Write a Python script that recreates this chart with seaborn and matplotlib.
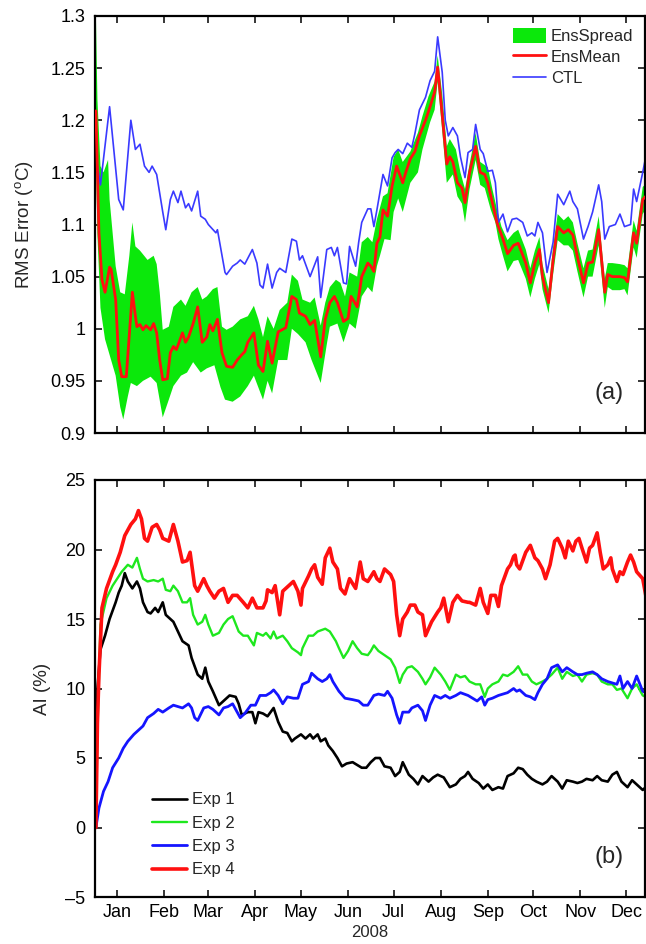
import numpy as np
import pandas as pd
import matplotlib
matplotlib.use("Agg")
import matplotlib.pyplot as plt
from matplotlib.patches import Patch
from matplotlib.lines import Line2D
import seaborn as sns

# ---------------- data (day of 2008, Jan 1 = 0) ----------------
month_labels = ["Jan", "Feb", "Mar", "Apr", "May", "Jun",
                "Jul", "Aug", "Sep", "Oct", "Nov", "Dec"]

ctl_days = [0, 3, 9, 15, 18, 23, 26, 29, 32, 35, 37, 40, 44, 46, 49, 51, 54, 56, 59, 61, 63,
            67, 69, 72, 74, 79, 80, 85, 86, 90, 93, 95, 98, 103, 106, 108, 110, 113, 116, 119,
            121, 125, 129, 132, 134, 136, 141, 146, 148, 152, 155, 157, 159, 163, 165, 167, 171,
            173, 175, 179, 181, 183, 185, 189, 192, 195, 197, 199, 202, 205, 208, 210, 213, 217,
            220, 223, 225, 228, 230, 232, 235, 238, 240, 243, 245, 248, 250, 253, 255, 258, 261,
            263, 265, 268, 271, 274, 277, 281, 284, 287, 289, 291, 294, 297, 301, 304, 308, 312,
            314, 317, 321, 324, 327, 331, 333, 335, 338, 342, 345, 348, 352, 354, 356, 360, 362]
ctl_vals = [1.165, 1.138, 1.213, 1.124, 1.114, 1.200, 1.172, 1.177, 1.156, 1.150, 1.156, 1.148,
            1.112, 1.095, 1.124, 1.132, 1.121, 1.132, 1.116, 1.120, 1.113, 1.132, 1.108, 1.105,
            1.100, 1.092, 1.095, 1.054, 1.052, 1.060, 1.063, 1.066, 1.062, 1.076, 1.063, 1.042,
            1.039, 1.062, 1.039, 1.054, 1.058, 1.054, 1.086, 1.084, 1.066, 1.070, 1.050, 1.069,
            1.030, 1.076, 1.078, 1.070, 1.078, 1.044, 1.043, 1.079, 1.060, 1.083, 1.102, 1.115,
            1.115, 1.098, 1.114, 1.148, 1.137, 1.164, 1.169, 1.172, 1.168, 1.178, 1.174, 1.187,
            1.210, 1.222, 1.238, 1.247, 1.280, 1.246, 1.200, 1.185, 1.193, 1.185, 1.165, 1.145,
            1.169, 1.172, 1.196, 1.172, 1.168, 1.151, 1.152, 1.140, 1.102, 1.110, 1.093, 1.105,
            1.106, 1.102, 1.089, 1.092, 1.089, 1.102, 1.092, 1.054, 1.083, 1.129, 1.119, 1.132,
            1.122, 1.115, 1.086, 1.098, 1.112, 1.138, 1.122, 1.086, 1.098, 1.100, 1.110, 1.098,
            1.100, 1.134, 1.122, 1.150, 1.165]

ensmean_days = [0, 2, 4, 6, 9, 10, 13, 15, 17, 20, 24, 26, 27, 29, 31, 33, 36, 38, 40, 42, 44,
                47, 49, 51, 53, 57, 59, 61, 64, 67, 70, 73, 75, 77, 80, 83, 86, 90, 93, 96, 98,
                100, 104, 107, 110, 113, 116, 120, 125, 129, 132, 134, 138, 141, 144, 148, 151,
                154, 157, 159, 163, 166, 168, 172, 175, 179, 181, 183, 185, 187, 189, 192, 195,
                198, 202, 204, 207, 210, 213, 217, 220, 223, 225, 228, 231, 233, 235, 238, 241,
                243, 246, 250, 253, 256, 258, 261, 264, 268, 271, 275, 278, 283, 286, 289, 292,
                294, 298, 301, 304, 308, 311, 314, 317, 321, 324, 327, 331, 335, 337, 340, 345,
                348, 350, 354, 356, 360, 362]
ensmean_vals = [1.209, 1.092, 1.047, 1.035, 1.059, 1.057, 1.028, 0.970, 0.954, 0.954, 1.035,
                1.012, 1.002, 1.004, 0.999, 1.003, 0.999, 1.005, 0.996, 0.970, 0.951, 0.952,
                0.977, 0.983, 0.980, 0.996, 0.987, 0.992, 1.005, 1.021, 0.987, 0.992, 1.004,
                0.998, 1.009, 0.977, 0.964, 0.963, 0.970, 0.975, 0.978, 0.987, 0.996, 0.965,
                0.959, 0.988, 0.967, 0.997, 1.001, 1.031, 1.028, 1.015, 1.012, 1.004, 1.008,
                0.973, 1.009, 1.025, 1.031, 1.025, 1.007, 1.010, 1.031, 1.021, 1.050, 1.063,
                1.060, 1.055, 1.082, 1.088, 1.114, 1.108, 1.137, 1.156, 1.140, 1.150, 1.163,
                1.170, 1.185, 1.200, 1.213, 1.227, 1.251, 1.205, 1.158, 1.165, 1.160, 1.140,
                1.135, 1.121, 1.150, 1.175, 1.150, 1.148, 1.140, 1.121, 1.102, 1.086, 1.072,
                1.080, 1.082, 1.063, 1.044, 1.063, 1.076, 1.050, 1.025, 1.066, 1.098, 1.092,
                1.095, 1.090, 1.069, 1.044, 1.063, 1.064, 1.095, 1.035, 1.052, 1.050, 1.050,
                1.049, 1.045, 1.092, 1.082, 1.124, 1.127]

spread_hi_days = [0, 1, 3, 5, 8, 9, 13, 16, 19, 22, 24, 26, 29, 34, 38, 40, 42, 44, 48, 51, 56,
                  59, 63, 67, 70, 73, 77, 80, 83, 86, 90, 95, 100, 104, 107, 110, 113, 117, 121,
                  126, 129, 133, 136, 141, 144, 148, 151, 154, 158, 161, 164, 167, 172, 175, 179,
                  182, 185, 189, 192, 196, 199, 202, 207, 212, 215, 219, 223, 225, 228, 231, 233,
                  237, 240, 243, 246, 250, 253, 258, 261, 264, 267, 271, 275, 278, 283, 286, 289,
                  292, 294, 298, 301, 304, 308, 311, 314, 317, 321, 324, 327, 331, 335, 337, 340,
                  345, 348, 350, 354, 356, 360, 362]
spread_hi_vals = [1.300, 1.220, 1.156, 1.150, 1.162, 1.124, 1.060, 1.035, 1.033, 1.070, 1.102,
                  1.079, 1.075, 1.066, 1.070, 1.062, 1.035, 0.999, 1.002, 1.021, 1.028, 1.022,
                  1.035, 1.040, 1.028, 1.031, 1.038, 1.040, 1.002, 0.999, 1.002, 1.009, 1.012,
                  1.022, 1.009, 0.992, 1.012, 1.000, 1.018, 1.025, 1.052, 1.046, 1.028, 1.025,
                  1.030, 1.003, 1.025, 1.040, 1.047, 1.044, 1.031, 1.054, 1.050, 1.083, 1.088,
                  1.083, 1.105, 1.127, 1.130, 1.165, 1.172, 1.160, 1.170, 1.188, 1.204, 1.223,
                  1.237, 1.262, 1.225, 1.175, 1.182, 1.172, 1.150, 1.134, 1.158, 1.188, 1.160,
                  1.155, 1.134, 1.115, 1.098, 1.085, 1.092, 1.095, 1.076, 1.058, 1.075, 1.088,
                  1.062, 1.038, 1.078, 1.110, 1.104, 1.108, 1.102, 1.082, 1.058, 1.075, 1.076,
                  1.108, 1.048, 1.063, 1.063, 1.062, 1.061, 1.058, 1.104, 1.094, 1.136, 1.139]

spread_lo_days = [0, 1, 3, 6, 9, 13, 16, 18, 21, 23, 27, 31, 36, 40, 44, 48, 51, 56, 60, 64, 69,
                  73, 78, 82, 85, 90, 95, 100, 104, 110, 113, 116, 120, 126, 129, 133, 138, 142,
                  148, 152, 154, 159, 163, 167, 171, 175, 179, 182, 185, 187, 190, 194, 196, 199,
                  202, 207, 212, 215, 220, 223, 225, 228, 231, 235, 238, 241, 243, 246, 250, 253,
                  256, 260, 263, 265, 268, 271, 275, 278, 283, 286, 289, 292, 294, 298, 301, 304,
                  308, 311, 314, 317, 321, 324, 327, 331, 335, 337, 340, 345, 348, 350, 354, 356,
                  360, 362]
spread_lo_vals = [1.170, 1.090, 1.020, 0.990, 0.975, 0.955, 0.925, 0.913, 0.935, 0.948, 0.945,
                  0.950, 0.954, 0.948, 0.915, 0.932, 0.945, 0.955, 0.958, 0.968, 0.958, 0.962,
                  0.965, 0.944, 0.932, 0.930, 0.935, 0.945, 0.955, 0.932, 0.950, 0.938, 0.970,
                  0.970, 1.000, 0.995, 0.987, 0.970, 0.948, 0.985, 1.002, 1.005, 0.987, 1.005,
                  1.000, 1.031, 1.040, 1.035, 1.060, 1.070, 1.086, 1.085, 1.112, 1.125, 1.112,
                  1.140, 1.150, 1.172, 1.198, 1.210, 1.237, 1.190, 1.140, 1.148, 1.127, 1.120,
                  1.102, 1.134, 1.162, 1.138, 1.135, 1.114, 1.102, 1.086, 1.070, 1.055, 1.065,
                  1.066, 1.048, 1.030, 1.048, 1.062, 1.038, 1.015, 1.052, 1.085, 1.080, 1.080,
                  1.075, 1.055, 1.030, 1.050, 1.050, 1.080, 1.020, 1.040, 1.037, 1.037, 1.038,
                  1.032, 1.078, 1.068, 1.110, 1.115]

exp1_days = [0, 1, 3, 6, 9, 13, 15, 17, 19, 21, 24, 27, 29, 31, 34, 36, 39, 41, 44, 46, 49, 51,
             54, 57, 61, 63, 67, 70, 72, 74, 77, 81, 84, 88, 92, 94, 96, 100, 103, 105, 107, 110,
             113, 117, 120, 123, 126, 129, 131, 135, 138, 141, 143, 146, 148, 151, 153, 156, 159,
             162, 165, 169, 172, 175, 178, 181, 184, 187, 190, 194, 197, 200, 202, 206, 209, 212,
             215, 219, 222, 225, 229, 233, 237, 240, 243, 245, 248, 252, 255, 258, 261, 265, 268,
             271, 275, 278, 281, 284, 287, 290, 294, 297, 300, 304, 307, 310, 314, 317, 320, 323,
             327, 330, 333, 337, 340, 343, 346, 350, 353, 356, 360, 362]
exp1_vals = [0.0, 10.0, 12.8, 13.8, 15.0, 16.2, 16.9, 17.4, 18.3, 17.7, 17.2, 17.7, 17.2, 16.2,
             15.5, 15.4, 15.8, 15.5, 16.2, 15.3, 15.0, 14.8, 14.1, 13.4, 13.1, 12.2, 11.0, 10.7,
             11.5, 10.5, 9.8, 8.8, 9.1, 9.5, 9.4, 8.9, 8.1, 8.3, 8.3, 7.5, 8.3, 8.2, 8.0, 8.6,
             7.6, 6.9, 6.8, 6.2, 6.4, 6.7, 6.4, 6.7, 6.4, 6.7, 6.2, 6.4, 5.9, 5.5, 5.0, 4.4, 4.6,
             4.7, 4.5, 4.3, 4.3, 4.7, 5.0, 5.0, 4.4, 4.3, 3.7, 4.0, 4.7, 3.8, 3.5, 3.1, 3.7, 3.3,
             3.6, 3.8, 3.6, 2.9, 3.1, 3.5, 3.7, 4.0, 3.5, 3.2, 2.8, 3.1, 2.7, 2.9, 2.8, 3.7, 3.9,
             4.3, 4.2, 3.8, 3.5, 3.3, 3.1, 3.3, 3.7, 3.3, 2.8, 3.4, 3.3, 3.2, 3.3, 3.5, 3.4, 3.7,
             3.4, 3.3, 3.8, 4.0, 3.3, 2.9, 3.4, 3.1, 2.7, 2.9]

exp2_days = [0, 1, 3, 7, 11, 14, 17, 21, 24, 27, 29, 31, 34, 38, 41, 44, 46, 49, 51, 54, 57, 60,
             62, 64, 67, 70, 72, 74, 77, 81, 84, 87, 90, 94, 97, 100, 104, 106, 110, 112, 115,
             117, 119, 123, 126, 129, 133, 135, 136, 140, 143, 146, 151, 154, 158, 160, 163, 166,
             169, 172, 175, 179, 181, 183, 186, 190, 194, 197, 200, 202, 205, 208, 212, 215, 217,
             220, 223, 227, 230, 233, 237, 240, 243, 246, 250, 253, 256, 258, 261, 265, 268, 271,
             275, 278, 281, 284, 287, 290, 294, 297, 300, 304, 307, 310, 314, 317, 320, 323, 327,
             330, 333, 337, 340, 343, 346, 350, 353, 356, 360, 362]
exp2_vals = [0.0, 7.0, 14.6, 16.5, 17.4, 17.9, 18.4, 18.9, 18.7, 19.4, 18.6, 17.9, 17.7, 17.8,
             17.7, 17.9, 17.1, 17.0, 17.4, 17.0, 16.2, 16.2, 16.5, 15.3, 14.6, 14.8, 15.3, 14.6,
             13.8, 14.0, 14.6, 15.0, 15.2, 14.1, 13.8, 13.8, 13.1, 14.0, 13.8, 14.0, 13.6, 14.1,
             13.6, 13.8, 13.4, 12.9, 12.6, 12.4, 12.9, 13.8, 13.8, 14.1, 14.3, 14.1, 13.4, 12.9,
             12.2, 12.7, 13.4, 12.9, 12.5, 12.4, 12.7, 13.1, 12.7, 12.4, 12.1, 11.5, 10.4, 11.0,
             11.5, 11.6, 11.2, 10.7, 10.3, 10.8, 11.5, 11.0, 10.5, 9.9, 11.0, 10.8, 10.9, 10.5,
             10.3, 10.3, 9.4, 10.0, 10.3, 10.5, 11.0, 10.9, 11.2, 11.6, 11.0, 11.0, 10.5, 10.3,
             10.5, 10.7, 11.0, 11.5, 10.7, 11.2, 10.9, 11.0, 10.5, 11.0, 11.1, 11.0, 10.5, 10.3,
             10.3, 9.9, 10.0, 9.3, 10.0, 10.3, 9.5, 9.4]

exp3_days = [0, 2, 5, 8, 11, 15, 18, 21, 25, 28, 31, 34, 38, 41, 44, 48, 51, 54, 57, 61, 63, 65,
             67, 71, 74, 77, 81, 84, 87, 90, 93, 95, 98, 102, 105, 108, 112, 115, 117, 120, 123,
             126, 130, 133, 136, 140, 142, 146, 149, 152, 154, 156, 160, 164, 169, 173, 176, 179,
             183, 186, 190, 192, 195, 198, 200, 202, 206, 208, 212, 215, 217, 220, 223, 227, 230,
             233, 237, 240, 245, 248, 251, 254, 256, 258, 261, 265, 268, 271, 275, 277, 279, 283,
             286, 289, 291, 294, 297, 300, 304, 307, 310, 314, 317, 320, 323, 327, 330, 333, 337,
             340, 343, 345, 347, 350, 353, 356, 360, 362]
exp3_vals = [0.0, 1.4, 2.6, 3.3, 4.3, 5.0, 5.7, 6.2, 6.7, 7.0, 7.3, 7.9, 8.2, 8.5, 8.3, 8.6, 8.8,
             8.7, 8.6, 8.9, 8.6, 7.9, 7.7, 8.6, 8.7, 8.5, 8.1, 8.6, 8.7, 8.9, 8.3, 7.9, 8.2, 8.8,
             8.8, 9.5, 9.5, 9.7, 9.9, 9.5, 8.9, 9.4, 9.3, 9.3, 10.3, 10.5, 11.1, 10.7, 10.5, 10.7,
             11.0, 10.5, 9.8, 9.3, 9.2, 9.1, 8.8, 8.8, 9.5, 9.6, 9.5, 9.8, 9.3, 8.1, 7.5, 8.3, 8.3,
             8.6, 8.8, 8.4, 7.7, 8.8, 9.5, 9.3, 9.5, 9.3, 9.5, 9.7, 9.5, 9.3, 9.1, 9.4, 8.8, 9.2,
             9.3, 9.5, 9.6, 9.7, 10.0, 9.8, 9.9, 9.5, 9.4, 9.2, 9.7, 10.3, 10.7, 11.5, 11.7, 11.2,
             11.5, 11.2, 11.0, 11.0, 11.1, 11.2, 11.0, 10.7, 10.5, 10.4, 10.3, 10.9, 10.0, 10.5,
             10.0, 10.9, 9.8, 9.7]

exp4_days = [0, 1, 2, 4, 7, 11, 13, 16, 19, 23, 26, 28, 30, 32, 34, 37, 40, 42, 44, 48, 51, 54,
             57, 60, 62, 65, 67, 71, 73, 75, 78, 81, 84, 87, 90, 93, 97, 100, 103, 106, 110, 112,
             113, 116, 118, 121, 123, 127, 130, 133, 135, 136, 140, 142, 144, 146, 149, 151, 154,
             156, 159, 161, 164, 167, 171, 174, 176, 179, 183, 185, 187, 190, 194, 196, 198, 200,
             202, 205, 207, 210, 212, 215, 217, 219, 221, 225, 227, 229, 232, 235, 238, 241, 245,
             246, 250, 253, 255, 258, 260, 263, 265, 267, 269, 271, 273, 275, 276, 277, 279, 283,
             286, 289, 291, 294, 296, 299, 302, 304, 307, 309, 311, 314, 316, 318, 320, 323, 325,
             327, 330, 332, 334, 337, 339, 340, 343, 345, 347, 350, 352, 354, 356, 360, 362]
exp4_vals = [0.0, 7.5, 11.0, 15.8, 17.2, 18.4, 18.9, 19.8, 21.0, 21.8, 22.2, 22.8, 22.2, 20.8,
             20.6, 21.6, 21.8, 21.4, 20.8, 20.6, 21.8, 20.6, 19.1, 19.2, 19.8, 17.4, 17.0, 17.9,
             17.4, 17.0, 16.5, 17.0, 17.2, 16.2, 16.7, 16.7, 16.2, 15.8, 16.5, 15.8, 15.8, 16.3,
             17.1, 16.9, 17.4, 15.3, 17.0, 17.4, 17.7, 17.0, 16.0, 17.2, 18.1, 18.6, 18.9, 18.0,
             17.5, 19.4, 20.1, 19.1, 18.6, 17.2, 16.8, 17.9, 17.2, 19.1, 17.9, 17.7, 18.4, 17.9,
             17.7, 18.6, 18.2, 17.7, 15.3, 13.8, 15.0, 15.5, 16.0, 16.0, 15.5, 15.3, 13.8, 14.3,
             14.8, 15.5, 15.8, 16.5, 14.8, 16.2, 16.7, 16.3, 16.2, 16.2, 16.0, 17.2, 16.2, 15.4,
             16.7, 16.7, 15.9, 17.4, 18.0, 18.6, 18.9, 19.5, 19.6, 18.9, 18.6, 19.8, 20.3, 19.4,
             19.2, 18.6, 17.9, 18.9, 20.6, 20.8, 20.1, 19.4, 20.6, 19.9, 20.6, 20.8, 20.1, 19.1,
             20.1, 20.3, 21.2, 19.8, 18.6, 18.9, 19.4, 18.6, 17.7, 18.4, 18.2, 19.1, 19.6, 19.1,
             18.4, 17.9, 16.7]

# ---------------- style ----------------
sns.set_style("ticks")
plt.rcParams["font.family"] = ["Liberation Sans", "DejaVu Sans"]
plt.rcParams["mathtext.fontset"] = "custom"
plt.rcParams["mathtext.rm"] = "Liberation Sans"

fig = plt.figure(figsize=(6.46, 9.44), dpi=100)
W, H = 646.0, 944.0
ax1 = fig.add_axes([95 / W, 1 - 433 / H, 550 / W, 417 / H])
ax2 = fig.add_axes([95 / W, 1 - 897 / H, 550 / W, 417 / H])

GREEN_FILL = "#0be80b"
RED = "#ff1010"
BLUE_CTL = "#3a3aff"

# ----- panel (a) -----
poly_x = np.concatenate([spread_hi_days, spread_lo_days[::-1]])
poly_y = np.concatenate([spread_hi_vals, spread_lo_vals[::-1]])
ax1.fill(poly_x, poly_y, color=GREEN_FILL, lw=0, zorder=1)
sns.lineplot(x=ctl_days, y=ctl_vals, ax=ax1, color=BLUE_CTL, lw=1.2,
             estimator=None, sort=False, zorder=2)
sns.lineplot(x=ensmean_days, y=ensmean_vals, ax=ax1, color=RED, lw=2.0,
             estimator=None, sort=False, zorder=3)

# ----- panel (b) -----
sns.lineplot(x=exp1_days, y=exp1_vals, ax=ax2, color="black", lw=1.9,
             estimator=None, sort=False)
sns.lineplot(x=exp2_days, y=exp2_vals, ax=ax2, color="#1ee81e", lw=1.7,
             estimator=None, sort=False)
sns.lineplot(x=exp3_days, y=exp3_vals, ax=ax2, color="#1515ff", lw=2.0,
             estimator=None, sort=False)
sns.lineplot(x=exp4_days, y=exp4_vals, ax=ax2, color=RED, lw=2.6,
             estimator=None, sort=False)

# ----- axes -----
tick_dates = pd.date_range("2008-01-01", periods=12, freq="MS") + pd.Timedelta(days=14)
tick_days = [(d - pd.Timestamp("2008-01-01")).days for d in tick_dates]

for ax in (ax1, ax2):
    ax.set_xlim(-0.6, 361.5)
    ax.set_xticks(tick_days)
    ax.tick_params(direction="in", length=5, width=1.1, top=True, right=True,
                   labelsize=13, colors="black")
    ax.tick_params(axis="y", pad=7)
    ax.tick_params(axis="x", pad=5)
    for sp in ax.spines.values():
        sp.set_visible(True)
        sp.set_linewidth(1.6)
        sp.set_color("black")
    ax.set_xlabel("")
    ax.set_ylabel("")

ax1.set_xticklabels([])
ax2.set_xticklabels(month_labels)

ax1.set_ylim(0.9, 1.3)
a_ticks = [0.9, 0.95, 1.0, 1.05, 1.1, 1.15, 1.2, 1.25, 1.3]
ax1.set_yticks(a_ticks)
ax1.set_yticklabels(["0.9", "0.95", "1", "1.05", "1.1", "1.15", "1.2", "1.25", "1.3"])
ax1.set_ylabel(r"RMS Error ($^{\rm o}$C)", fontsize=13.5)
ax1.yaxis.set_label_coords(-0.108, 0.5)

ax2.set_ylim(-5, 25)
ax2.set_yticks([-5, 0, 5, 10, 15, 20, 25])
ax2.set_yticklabels(["\u20135", "0", "5", "10", "15", "20", "25"])
ax2.set_ylabel("AI (%)", fontsize=13.5)
ax2.yaxis.set_label_coords(-0.08, 0.5)
ax2.set_xlabel("2008", fontsize=12, labelpad=3)

ax1.text(0.935, 0.095, "(a)", transform=ax1.transAxes, fontsize=17,
         ha="center", va="center")
ax2.text(0.935, 0.095, "(b)", transform=ax2.transAxes, fontsize=17,
         ha="center", va="center")

# ----- legends -----
h_a = [Patch(facecolor=GREEN_FILL, edgecolor="none"),
       Line2D([], [], color=RED, lw=2.0),
       Line2D([], [], color=BLUE_CTL, lw=1.2)]
ax1.legend(h_a, ["EnsSpread", "EnsMean", "CTL"], loc="upper right",
           bbox_to_anchor=(1.0, 1.0), frameon=False, fontsize=12,
           handlelength=2.0, handleheight=1.0, labelspacing=0.3,
           handletextpad=0.3, borderaxespad=0.3)

h_b = [Line2D([], [], color="black", lw=1.9),
       Line2D([], [], color="#1ee81e", lw=1.7),
       Line2D([], [], color="#1515ff", lw=2.0),
       Line2D([], [], color=RED, lw=2.6)]
ax2.legend(h_b, ["Exp 1", "Exp 2", "Exp 3", "Exp 4"], loc="lower left",
           bbox_to_anchor=(0.076, 0.011), frameon=False, fontsize=12,
           handlelength=2.1, labelspacing=0.5, handletextpad=0.3)

fig.savefig("out.png", dpi=100)
